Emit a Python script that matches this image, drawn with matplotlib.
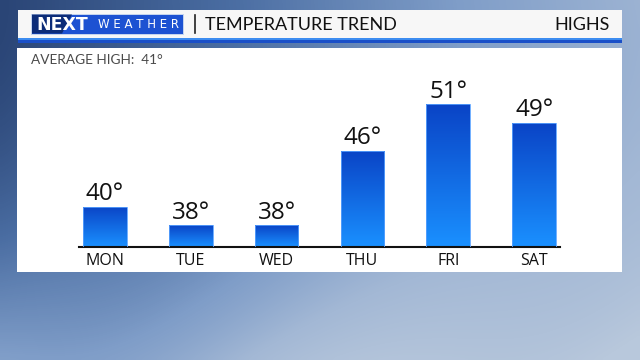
import numpy as np
import matplotlib
matplotlib.use("Agg")
import matplotlib.pyplot as plt
from matplotlib.patches import Rectangle, Polygon
from matplotlib.colors import LinearSegmentedColormap

plt.rcParams['font.family'] = ['Lato', 'DejaVu Sans']

# data
days = ["MON", "TUE", "WED", "THU", "FRI", "SAT"]
highs = [40, 38, 38, 46, 51, 49]
average_high = 41
title = "TEMPERATURE TREND"
subtitle = "HIGHS"

W, H = 640, 360
fig = plt.figure(figsize=(6.4, 3.6), dpi=100)

# sky background, pixel coordinates
bg = fig.add_axes([0, 0, 1, 1])
bg.set_xlim(0, W)
bg.set_ylim(H, 0)
bg.axis("off")
yy, xx = np.mgrid[0:1:90j, 0:1:160j]
sky = LinearSegmentedColormap.from_list(
    "sky", ["#2a4576", "#4a6da2", "#7f9dc8", "#a3b8d5", "#b8c8dc"])
field = 0.6 * xx + 0.5 * yy ** 2 + 0.1 * xx * (1 - yy)
field = field + 0.08 * np.sin(9 * xx + 3 * yy) * yy ** 2
bg.imshow(np.clip(field, 0, 1), cmap=sky, vmin=0, vmax=1,
          extent=[0, W, H, 0], aspect="auto", zorder=0, interpolation="bicubic")

# header bar
bg.add_patch(Rectangle((18, 10), 604, 28, facecolor="#f7f7f7", zorder=2))
bg.add_patch(Rectangle((18, 38), 604, 2, facecolor="#3c8cf0", zorder=2))
bg.add_patch(Rectangle((18, 40), 604, 2.5, facecolor="#1a4fc8", zorder=2))
# logo
bg.add_patch(Rectangle((31, 13.5), 153, 21, facecolor="#c4d4ee", zorder=3))
bg.add_patch(Rectangle((32, 14.5), 151, 19, facecolor="#1d52d2", zorder=4))
bg.add_patch(Polygon([(32, 14.5), (72, 14.5), (62, 33.5), (32, 33.5)],
                     closed=True, facecolor="#0c2c78", zorder=4))
bg.text(62, 24.5, "NEXT", color="white", fontsize=12.5, fontweight="bold",
        family="DejaVu Sans", ha="center", va="center", zorder=5)
bg.text(139, 24.5, "W E A T H E R", color="white", fontsize=8.5,
        family="DejaVu Sans", ha="center", va="center", zorder=5)
bg.plot([195, 195], [15, 33], color="#222222", lw=1.2, zorder=5)
bg.text(205, 24.5, title, color="#111111", fontsize=13,
        ha="left", va="center", zorder=5)
bg.text(610, 24.5, subtitle, color="#111111", fontsize=13,
        ha="right", va="center", zorder=5)

# white chart panel
bg.add_patch(Rectangle((17, 48), 605, 224, facecolor="white", zorder=2))
bg.text(31, 60, f"AVERAGE HIGH:  {average_high}\u00b0", color="#4a4a4a",
        fontsize=9.8, ha="left", va="center", zorder=5)

# bar chart axes
ax = fig.add_axes([79 / W, (H - 247) / H, 481 / W, 167 / H])
ax.set_facecolor("none")
x = np.arange(len(days))
ymin, ymax = 35.68, 35.68 + 167 / 9.32

grad = np.linspace(0, 1, 100).reshape(-1, 1)
bar_cmap = LinearSegmentedColormap.from_list("bar", ["#0a44c6", "#1a90ff"])
bars = ax.bar(x, highs, width=0.51, bottom=0, color="none",
              edgecolor="#5aa2ff", linewidth=0.6, zorder=3)
for b, v in zip(bars, highs):
    x0 = b.get_x()
    im = ax.imshow(grad, cmap=bar_cmap, aspect="auto", zorder=2,
                   extent=[x0, x0 + b.get_width(), ymin, v])
    im.set_clip_path(b)
    ax.annotate(f"{v}\u00b0", (b.get_x() + b.get_width() / 2, v),
                xytext=(0, 0.5), textcoords="offset points",
                ha="center", va="bottom", fontsize=17.5, color="#111111",
                family="Open Sans", fontweight=500)
ax.set_xlim(-0.30, len(days) - 1 + 0.30)
ax.set_ylim(ymin, ymax)

for s in ["top", "right", "left"]:
    ax.spines[s].set_visible(False)
ax.spines["bottom"].set_color("#111111")
ax.spines["bottom"].set_linewidth(1.5)
ax.set_yticks([])
ax.set_xticks(x)
ax.set_xticklabels(days, fontsize=11.5, color="#111111", family="Open Sans",
                   fontweight=500)
ax.tick_params(axis="x", length=0, pad=4.5)

fig.savefig("out.png", dpi=100)
